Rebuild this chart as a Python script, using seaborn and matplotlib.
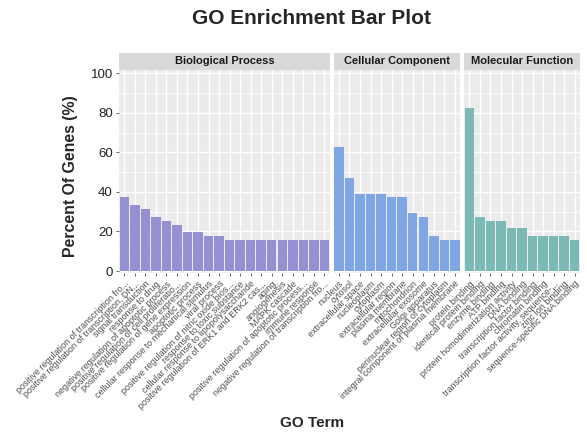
import matplotlib
matplotlib.use("Agg")
import matplotlib.pyplot as plt
from matplotlib.patches import Rectangle
import seaborn as sns
import pandas as pd

# GO terms per ontology, ordered by gene share
bp_terms = [
    "positive regulation of transcription fro...",
    "positive regulation of transcription, DN...",
    "signal transduction",
    "response to drug",
    "negative regulation of apoptotic process",
    "positive regulation of cell proliferatio...",
    "positive regulation of gene expression",
    "apoptotic process",
    "cellular response to mechanical stimulus",
    "viral process",
    "positive regulation of nitric oxide bios...",
    "response to toxic substance",
    "cellular response to lipopolysaccharide",
    "positive regulation of ERK1 and ERK2 cas...",
    "aging",
    "angiogenesis",
    "MAPK cascade",
    "positive regulation of apoptotic process...",
    "immune response",
    "negative regulation of transcription fro...",
]
bp_pct = [37.3, 33.3, 31.4, 27.5, 25.5, 23.5, 19.6, 19.6, 17.6, 17.6,
          15.7, 15.7, 15.7, 15.7, 15.7, 15.7, 15.7, 15.7, 15.7, 15.7]

cc_terms = [
    "nucleus",
    "cytosol",
    "extracellular space",
    "nucleoplasm",
    "cytoplasm",
    "extracellular region",
    "plasma membrane",
    "mitochondrion",
    "extracellular exosome",
    "Golgi apparatus",
    "perinuclear region of cytoplasm",
    "integral component of plasma membrane",
]
cc_pct = [62.7, 47.1, 39.2, 39.2, 39.2, 37.3, 37.3, 29.4, 27.5, 17.6, 15.7, 15.7]

mf_terms = [
    "protein binding",
    "identical protein binding",
    "enzyme binding",
    "ATP binding",
    "protein homodimerization activity",
    "DNA binding",
    "transcription factor binding",
    "chromatin binding",
    "transcription factor activity, sequence-...",
    "zinc ion binding",
    "sequence-specific DNA binding",
]
mf_pct = [82.4, 27.5, 25.5, 25.5, 21.6, 21.6, 17.6, 17.6, 17.6, 17.6, 15.7]

facets = [
    ("Biological Process", bp_terms, bp_pct, "#9590D4"),
    ("Cellular Component", cc_terms, cc_pct, "#7FA6E6"),
    ("Molecular Function", mf_terms, mf_pct, "#7AB9B4"),
]

sns.set_theme(style="darkgrid")
plt.rcParams["font.family"] = ["Liberation Sans", "DejaVu Sans"]

W, H = 587, 436
fig = plt.figure(figsize=(W / 100, H / 100), dpi=100)

left_px, right_px = 119, 580
top_px, bottom_px = 70, 273
gap_px = 4
n_total = sum(len(f[1]) for f in facets)
unit = (right_px - left_px - gap_px * (len(facets) - 1)) / n_total
panel_h = bottom_px - top_px
strip_h = 17

x0 = left_px
for i, (name, terms, pct, col) in enumerate(facets):
    w = unit * len(terms)
    ax = fig.add_axes([x0 / W, 1 - bottom_px / H, w / W, panel_h / H])
    df = pd.DataFrame({"term": terms, "pct": pct})
    sns.barplot(data=df, x="term", y="pct", order=terms, color=col,
                saturation=1, width=0.9, ax=ax, zorder=3)
    for p in ax.patches:
        p.set_edgecolor("none")
    ax.set_facecolor("#EBEBEB")
    ax.set_xlim(-0.5, len(terms) - 0.5)
    ax.set_ylim(-1, 101.7)
    ax.set_yticks([0, 20, 40, 60, 80, 100])
    ax.set_yticks([10, 30, 50, 70, 90], minor=True)
    ax.grid(True, which="major", color="white", linewidth=1.0, zorder=0)
    ax.grid(True, which="minor", axis="y", color="white", linewidth=0.5, zorder=0)
    for s in ax.spines.values():
        s.set_visible(False)
    ax.set_xlabel("")
    ax.set_ylabel("")
    ax.set_xticks(range(len(terms)))
    ax.set_xticklabels(terms, rotation=45, ha="right", va="top",
                       rotation_mode="anchor", fontsize=6.5, color="#4D4D4D")
    ax.tick_params(axis="x", length=2.5, width=0.6, color="#4D4D4D", pad=2,
                   bottom=True)
    if i == 0:
        ax.tick_params(axis="y", length=2.5, width=0.6, color="#4D4D4D",
                       labelsize=9.5, labelcolor="#222222", pad=2, left=True)
        ax.tick_params(axis="y", which="minor", length=0)
    else:
        ax.tick_params(axis="y", which="both", length=0, labelleft=False)
    # facet strip
    ax.add_patch(Rectangle((0, 1.0), 1, strip_h / panel_h, transform=ax.transAxes,
                           facecolor="#D9D9D9", edgecolor="none", clip_on=False))
    ax.text(0.5, 1.0 + strip_h / panel_h / 2, name, transform=ax.transAxes,
            ha="center", va="center", fontsize=8, fontweight="bold", color="#1A1A1A")
    x0 += w + gap_px

fig.text(312 / W, 1 - 18 / H, "GO Enrichment Bar Plot", ha="center", va="center",
         fontsize=15, fontweight="bold")
fig.text(70 / W, 1 - 176 / H, "Percent Of Genes (%)", ha="center", va="center",
         rotation=90, fontsize=11.4, fontweight="bold")
fig.text(312 / W, 1 - 423 / H, "GO Term", ha="center", va="center",
         fontsize=11, fontweight="bold")

fig.savefig("out.png", dpi=100, facecolor="white")
